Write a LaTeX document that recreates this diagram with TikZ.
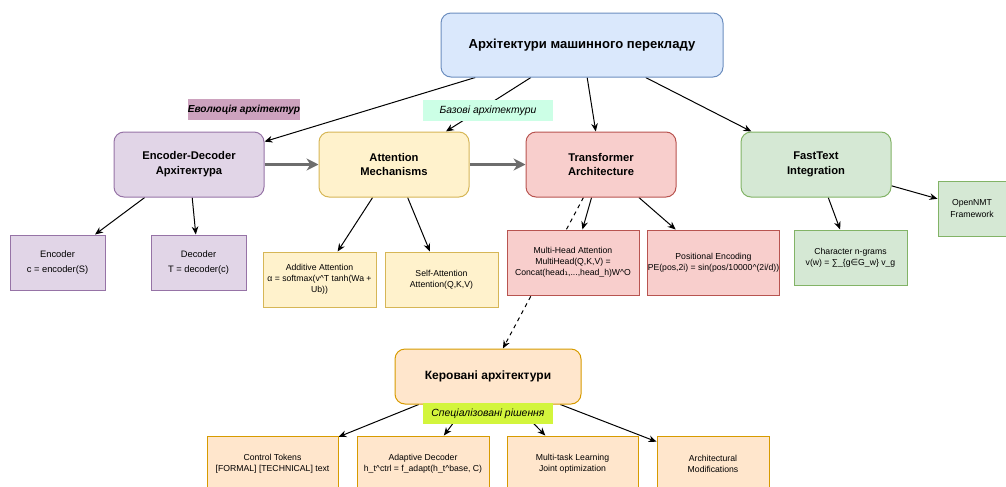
\documentclass[tikz,border=0pt]{standalone}
\usepackage{fontspec}
\setmainfont{Liberation Sans}
\newfontfamily\symfont{DejaVu Sans}
\usetikzlibrary{arrows.meta,backgrounds}
\definecolor{bluefill}{HTML}{DAE8FC}\definecolor{blueline}{HTML}{6C8EBF}
\definecolor{purpfill}{HTML}{E1D5E7}\definecolor{purpline}{HTML}{9673A6}
\definecolor{yellfill}{HTML}{FFF2CC}\definecolor{yellline}{HTML}{D6B656}
\definecolor{redfill}{HTML}{F8CECC}\definecolor{redline}{HTML}{B85450}
\definecolor{greenfill}{HTML}{D5E8D4}\definecolor{greenline}{HTML}{82B366}
\definecolor{orfill}{HTML}{FFE6CC}\definecolor{orline}{HTML}{D79B00}
\definecolor{tagmauve}{HTML}{CDA2BE}\definecolor{tagmint}{HTML}{CCFFE6}
\definecolor{taglime}{HTML}{D3F53C}\definecolor{flowgray}{HTML}{6D6D6D}
\begin{document}
\begin{tikzpicture}[x=0.75pt,y=-0.75pt,
    every node/.style={inner sep=0pt,align=center,line width=0.75pt},
    bigbox/.style={draw,rounded corners=7.5pt,minimum width=112.5pt,minimum height=48.75pt,
        font=\fontsize{8.4}{11.2}\selectfont\bfseries},
    smallbox/.style={draw,minimum width=#1*0.75pt,minimum height=41.25pt,
        font=\fontsize{6.5}{8.4}\selectfont},
    smallbox/.default=113,
    tag/.style={minimum height=15.75pt,minimum width=97.5pt,font=\fontsize{7.8}{9}\selectfont\itshape},
    purp/.style={fill=purpfill,draw=purpline},
    yell/.style={fill=yellfill,draw=yellline},
    red/.style={fill=redfill,draw=redline},
    green/.style={fill=greenfill,draw=greenline},
    orng/.style={fill=orfill,draw=orline},
    arr/.style={-{Stealth[length=6pt,width=5pt]},line width=0.75pt},
    flow/.style={-{Stealth[length=9pt,width=9pt]},line width=1.6pt,draw=flowgray}]
\useasboundingbox (0,0) rectangle (1006,486);

\node[bigbox,fill=bluefill,draw=blueline,minimum width=211.5pt,minimum height=48pt,
    font=\fontsize{9.8}{12}\selectfont\bfseries] (title) at (582,45) {Архітектури машинного перекладу};

\node[bigbox,purp] (encdec) at (189,164.5) {Encoder-Decoder\\Архітектура};
\node[bigbox,yell] (attn) at (394,164.5) {Attention\\Mechanisms};
\node[bigbox,red] (trans) at (601,164.5) {Transformer\\Architecture};
\node[bigbox,green] (fast) at (816,164.5) {FastText\\Integration};

\node[smallbox=95,purp,font=\fontsize{7}{10.8}\selectfont] (enc) at (57.5,262.5) {Encoder\\c = encoder(S)};
\node[smallbox=95,purp,font=\fontsize{7}{10.8}\selectfont] (dec) at (198.5,262.5) {Decoder\\T = decoder(c)};
\node[smallbox,yell] (addit) at (319.5,279.5) {Additive Attention\\α = softmax(v\^{}T tanh(Wa +\\Ub))};
\node[smallbox,yell] (selfatt) at (441.5,279.5) {Self-Attention\\Attention(Q,K,V)};
\node[smallbox=132,red,minimum height=48.75pt] (mha) at (573,262.5)
    {Multi-Head Attention\\MultiHead(Q,K,V) =\\Concat(head{\symfont ₁},...,head\_h)W\^{}O};
\node[smallbox=132,red,minimum height=48.75pt] (posenc) at (713.5,262.5)
    {Positional Encoding\\PE(pos,2i) = sin(pos/10000\^{}(2i/d))};
\node[smallbox,green] (ngram) at (850.5,257.5) {Character n-grams\\v(w) = ∑\_\{g{\symfont ∈}G\_w\} v\_g};
\node[smallbox=68,green] (onmt) at (972,208.5) {OpenNMT\\Framework};

\node[bigbox,orng,minimum width=139.5pt,minimum height=41.25pt,
    font=\fontsize{9}{11}\selectfont\bfseries] (ctrl) at (488,376.5) {Керовані архітектури};
\node[smallbox=131,orng] (tokens) at (272.5,463.5) {Control Tokens\\{[FORMAL] [TECHNICAL]} text};
\node[smallbox=132,orng] (adapt) at (423,463.5) {Adaptive Decoder\\h\_t\^{}ctrl = f\_adapt(h\_t\^{}base, C)};
\node[smallbox=131,orng] (multi) at (572.5,463.5) {Multi-task Learning\\Joint optimization};
\node[smallbox=112,orng] (archmod) at (713,463.5) {Architectural\\Modifications};

\begin{scope}[on background layer]
\foreach \a/\b in {title/encdec,title/attn,title/trans,title/fast,encdec/enc,encdec/dec,
    attn/addit,attn/selfatt,trans/mha,trans/posenc,fast/ngram,fast/onmt,
    ctrl/tokens,ctrl/adapt,ctrl/multi,ctrl/archmod}
    \draw[arr] (\a) -- (\b);
\draw[arr,dash pattern=on 3pt off 3pt] (trans) -- (ctrl);
\draw[flow] (encdec) -- (attn);
\draw[flow] (attn) -- (trans);
\end{scope}

\node[tag,fill=tagmauve,minimum width=84pt,font=\fontsize{7.6}{9}\selectfont\bfseries\itshape] (evol) at (244,109.5) {Еволюція архітектур};
\node[tag,fill=tagmint] (base) at (488,110.5) {Базові архітектури};
\node[tag,fill=taglime] (spec) at (488,413.5) {Спеціалізовані рішення};
\end{tikzpicture}
\end{document}
